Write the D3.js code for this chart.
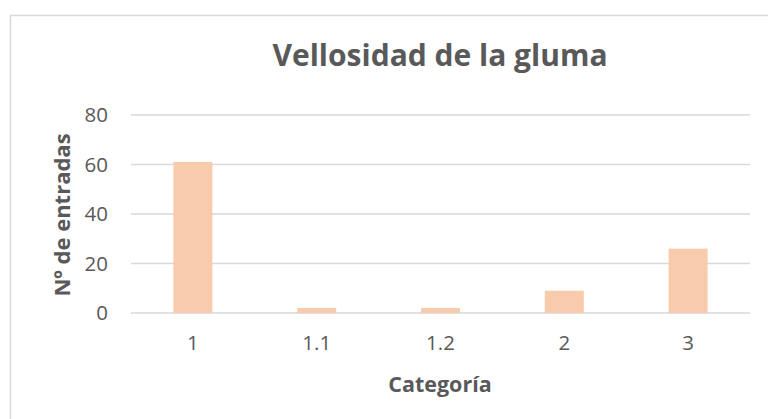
<!DOCTYPE html>
<html><head><meta charset="utf-8">
<script src="https://cdn.jsdelivr.net/npm/d3@7"></script>
<style>html,body{margin:0;padding:0;background:#fff;}svg{display:block;}</style>
</head><body>
<script>
const categories = ["1", "1.1", "1.2", "2", "3"];
const values = [61, 2, 2, 9, 26];
const yTicks = [0, 20, 40, 60, 80];
const titleText = "Vellosidad de la gluma";
const xTitle = "Categoría";
const yTitle = "Nº de entradas";

const W = 768, H = 419;
const svg = d3.select("body").append("svg").attr("width", W).attr("height", H);
const font = "'Open Sans', 'Noto Sans', sans-serif";
const txt = "#595959", grid = "#d9d9d9";

// chart border
svg.append("rect").attr("x", 10.5).attr("y", 15.5).attr("width", 770).attr("height", 420)
  .attr("fill", "none").attr("stroke", grid).attr("stroke-width", 1.5);

const x = d3.scaleBand().domain(categories).range([131, 750]).paddingInner(0.685).paddingOuter(0.3425);
const y = d3.scaleLinear().domain([0, 80]).range([313, 115]);

// gridlines
svg.append("g").selectAll("line").data(yTicks).join("line")
  .attr("x1", 131).attr("x2", 750)
  .attr("y1", d => y(d)).attr("y2", d => y(d))
  .attr("stroke", grid).attr("stroke-width", 1.5);

// y axis labels
const yAxis = svg.append("g").attr("transform", "translate(131,0)")
  .call(d3.axisLeft(y).tickValues(yTicks).tickSize(0).tickPadding(23));
yAxis.select(".domain").remove();
yAxis.selectAll("text").attr("font-family", font).attr("font-size", 20.5).attr("fill", txt);

// bars
svg.append("g").selectAll("rect").data(values).join("rect")
  .attr("x", (d, i) => x(categories[i]))
  .attr("width", x.bandwidth())
  .attr("y", d => y(d))
  .attr("height", d => y(0) - y(d))
  .attr("fill", "#F8CBAD");

// x axis
const xAxis = svg.append("g").attr("transform", "translate(0,313)")
  .call(d3.axisBottom(x).tickSize(0).tickPadding(22));
xAxis.select(".domain").remove();
xAxis.selectAll("text").attr("font-family", font).attr("font-size", 20.5).attr("fill", txt);

// titles
svg.append("text").attr("x", 440).attr("y", 66).attr("text-anchor", "middle")
  .attr("font-family", font).attr("font-weight", "bold").attr("font-size", 30).attr("fill", txt)
  .text(titleText);
svg.append("text").attr("x", 440).attr("y", 392).attr("text-anchor", "middle")
  .attr("font-family", font).attr("font-weight", "bold").attr("font-size", 21.5).attr("fill", txt)
  .text(xTitle);
svg.append("text").attr("transform", "translate(70,215) rotate(-90)").attr("text-anchor", "middle")
  .attr("font-family", font).attr("font-weight", "bold").attr("font-size", 22).attr("fill", txt)
  .text(yTitle);
</script>
</body></html>
